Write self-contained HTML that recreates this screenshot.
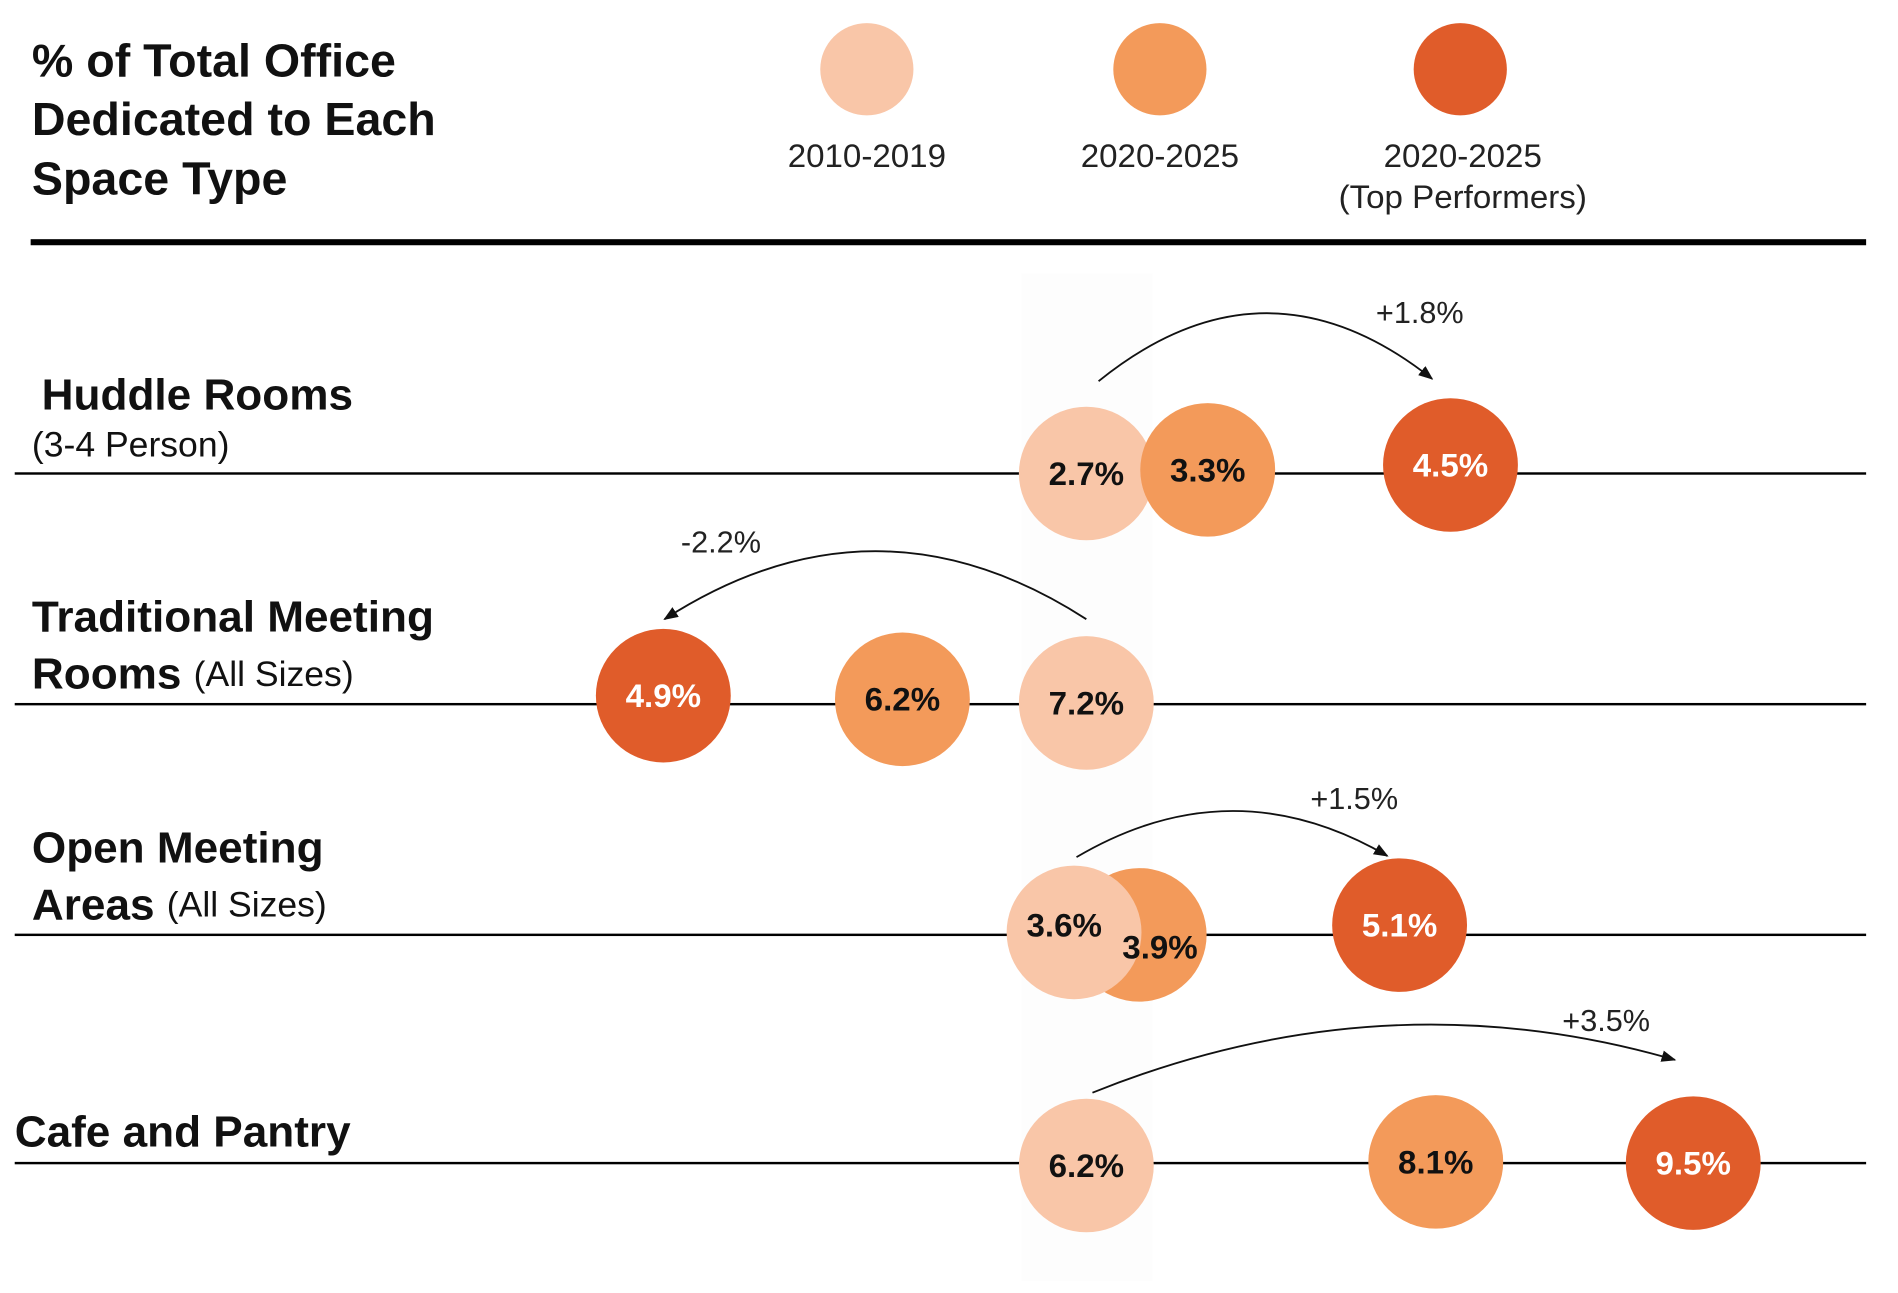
<!DOCTYPE html>
<html><head><meta charset="utf-8"><style>
html,body{margin:0;padding:0;background:#fff;width:1898px;height:1293px;overflow:hidden}
svg{display:block;font-family:"Liberation Sans",Arial,sans-serif}
</style></head><body>
<svg id="chart" width="1898" height="1293" viewBox="0 0 1548 1065" preserveAspectRatio="none" xmlns="http://www.w3.org/2000/svg">
<defs><marker id="ah" viewBox="0 0 10 10" refX="9" refY="5" markerWidth="8" markerHeight="8" orient="auto"><path d="M0,1 L10,5 L0,9 Z" fill="#111"/></marker></defs>
<rect x="833" y="225" width="107" height="830" fill="#fdfdfd"/>
<g font-weight="bold" font-size="38" fill="#111">
<text x="26" y="50" dominant-baseline="central">% of Total Office</text>
<text x="26" y="98" dominant-baseline="central">Dedicated to Each</text>
<text x="26" y="147" dominant-baseline="central">Space Type</text>
</g>
<g id="legend" font-size="27" fill="#222" text-anchor="middle"></g>
<rect x="25" y="197" width="1497" height="5" fill="#000"/>
<g id="rows"></g>
</svg>
<script>
const categories = ["Huddle Rooms","Traditional Meeting","Open Meeting","Cafe and Pantry"];
const seriesNames = ["2010-2019","2020-2025","2020-2025 (Top Performers)"];
const v2010 = [2.7, 7.2, 3.6, 6.2];
const v2020 = [3.3, 6.2, 3.9, 8.1];
const vTop = [4.5, 4.9, 5.1, 9.5];
const changeLabels = ["+1.8%","-2.2%","+1.5%","+3.5%"];
const colors = ["#f9c6a8","#f39a5a","#e05c2a"];
const NS = "http://www.w3.org/2000/svg";
function mk(t, a, parent){const e=document.createElementNS(NS,t);for(const k in a)e.setAttribute(k,a[k]);parent.appendChild(e);return e;}
const legend=document.getElementById('legend');
const lx=[707,946,1191];
seriesNames.forEach((n,i)=>{
  const c=mk('circle',{cx:lx[i],cy:57,r:38,fill:colors[i]},legend);
  
  
  const parts = i===2 ? ["2020-2025","(Top Performers)"] : [n];
  parts.forEach((p,j)=>{
    const t=mk('text',{x:lx[i]+(i===2?2:0),y:128+j*34,'dominant-baseline':'central'},legend);
    t.textContent=p;
    
    
  });
});
const rowY=[390,580,770,958];
const anchorX=[886,886,876,886];
const unitPx=[165,150,177,150];
function xScale(row,v){return anchorX[row]+(v - v2010[row])*unitPx[row];}
const yOff=[[0,-3,-7],[-1,-4,-7],[-2,0,-8],[2,-1,0]];
const arrowStartDx=[10,0,2,5], arrowStartDy=[-76,-70,-64,-58];
const arrowEndDx=[-15,1,-10,-15], arrowEndDy=[-78,-70,-65,-85];
const arrowPeakDy=[-132,-126,-102,-113];
const labelDx=[-25,47,-37,-71], labelY=[258,447,658,841];
const rows=document.getElementById('rows');
const orders=[[0,1,2],[2,1,0],[1,0,2],[0,1,2]];
categories.forEach((cat,r)=>{
  const g=mk('g',{},rows);
  
  
  const ln=mk('rect',{x:12,y:rowY[r]-1,width:1510,height:2,fill:'#000'},g);
  
  
  const vals=[v2010[r],v2020[r],vTop[r]];
  orders[r].forEach(i=>{
    const c=mk('circle',{cx:xScale(r,vals[i]),cy:rowY[r]+yOff[r][i],r:55,fill:colors[i]},g);
    
    
  });
  orders[r].forEach(i=>{
    const cx=xScale(r,vals[i]), cy=rowY[r]+yOff[r][i];
    let ty=cy, tx=cx;
    if(r===2&&i===1){ty=cy+10;tx=cx+17;}
    if(r===2&&i===0){ty=cy-6;tx=cx-8;}
    const t=mk('text',{x:tx,y:ty,'text-anchor':'middle','dominant-baseline':'central','font-weight':'bold','font-size':27,fill:i===2?'#fff':'#111'},g);
    t.textContent=vals[i].toFixed(1)+'%';
    
    
  });
  const x0=xScale(r,v2010[r])+arrowStartDx[r], y0=rowY[r]+arrowStartDy[r];
  const x1=xScale(r,vTop[r])+arrowEndDx[r], y1=rowY[r]+arrowEndDy[r];
  const py=rowY[r]+arrowPeakDy[r];
  const cy=2*py-(y0+y1)/2, cxm=(x0+x1)/2;
  const p=mk('path',{d:`M${x0},${y0} Q${cxm},${cy} ${x1},${y1}`,fill:'none',stroke:'#111','stroke-width':1.5,'marker-end':'url(#ah)'},g);
  
  
  const lt=mk('text',{x:xScale(r,vTop[r])+labelDx[r],y:labelY[r],'text-anchor':'middle','dominant-baseline':'central','font-size':25,fill:'#222'},g);
  lt.textContent=changeLabels[r];
  
  
});
const labels=[
 [{x:34,y:325,parts:[["Huddle Rooms",true]]},{x:26,y:366,parts:[["(3-4 Person)",false]]}],
 [{x:26,y:508,parts:[["Traditional Meeting",true]]},{x:26,y:555,parts:[["Rooms ",true],["(All Sizes)",false]]}],
 [{x:26,y:698,parts:[["Open Meeting",true]]},{x:26,y:745,parts:[["Areas ",true],["(All Sizes)",false]]}],
 [{x:12,y:932,parts:[["Cafe and Pantry",true]]}]
];
labels.forEach(rowL=>rowL.forEach(l=>{
  const t=mk('text',{x:l.x,y:l.y,'dominant-baseline':'central',fill:'#111'},rows);
  
  
  l.parts.forEach(([s,b])=>{
    const sp=mk('tspan',{'font-weight':b?'bold':'normal','font-size':b?36:29},t);
    sp.textContent=s;
  });
}));
</script>
</body></html>
